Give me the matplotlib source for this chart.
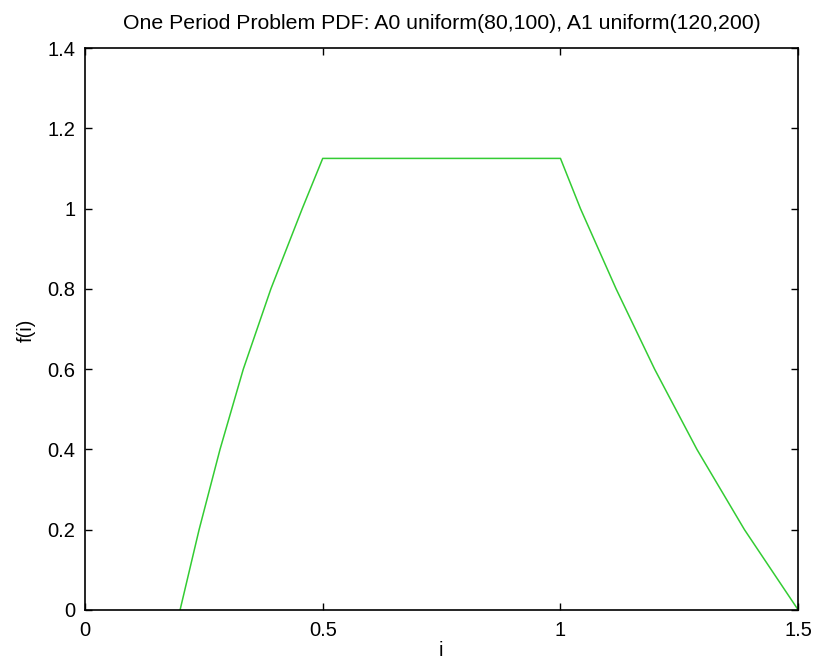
import matplotlib
matplotlib.use("Agg")
import matplotlib.pyplot as plt
from matplotlib.ticker import FuncFormatter

# values
i_vals = [0.2, 0.24, 0.284, 0.333, 0.391, 0.457, 0.5, 1.0, 1.042, 1.117, 1.198, 1.287, 1.387, 1.5]
f_vals = [0.0, 0.2, 0.4, 0.6, 0.8, 1.0, 1.125, 1.125, 1.0, 0.8, 0.6, 0.4, 0.2, 0.0]

x_ticks = [0, 0.5, 1, 1.5]
y_ticks = [0, 0.2, 0.4, 0.6, 0.8, 1, 1.2, 1.4]

plt.rcParams["font.family"] = ["Liberation Sans", "DejaVu Sans"]

fig = plt.figure(figsize=(8.17, 6.67), dpi=100)
ax = fig.add_axes([0.104, 0.0855, 0.873, 0.8425])

ax.plot(i_vals, f_vals, color="#33cc33", linewidth=1.1)

ax.set_xlim(0, 1.5)
ax.set_ylim(0, 1.4)
ax.set_xticks(x_ticks)
ax.set_yticks(y_ticks)
fmt = FuncFormatter(lambda v, p: ("%g" % round(v, 2)))
ax.xaxis.set_major_formatter(fmt)
ax.yaxis.set_major_formatter(fmt)
ax.tick_params(direction="in", top=True, right=True, length=5, width=1, color="black", labelsize=14.5)
ax.tick_params(axis="x", pad=8)
ax.tick_params(axis="y", pad=7)
for s in ax.spines.values():
    s.set_linewidth(1.2)

fig.text(26 / 817, 1 - 330 / 667, "f(i)", rotation=90, ha="center", va="center", fontsize=14.5)
fig.text(441 / 817, 1 - 650 / 667, "i", ha="center", va="center", fontsize=14.5)
ax.set_title("One Period Problem PDF: A0 uniform(80,100), A1 uniform(120,200)", fontsize=15.3, pad=14)

fig.savefig("out.png", dpi=100, facecolor="white")
